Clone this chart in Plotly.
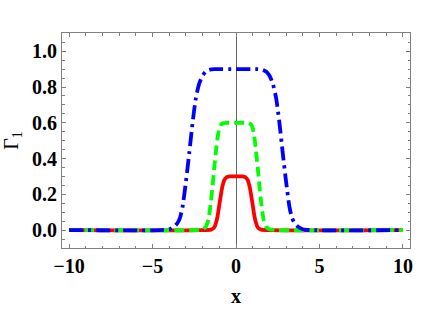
import plotly.graph_objects as go

# values (curves are symmetric about x = 0)
red_x_half = [-10, -2.0, -1.5, -1.3, -1.2, -1.1, -1.0, -0.9, -0.8, -0.7, -0.55, -0.4]
red_y_half = [0, 0, 0.003, 0.015, 0.04, 0.08, 0.14, 0.2, 0.25, 0.28, 0.296, 0.3]

green_x_half = [-10, -2.5, -2.0, -1.8, -1.65, -1.5, -1.4, -1.3, -1.2, -1.1, -1.0, -0.9, -0.75, -0.55]
green_y_half = [0, 0, 0.005, 0.02, 0.06, 0.16, 0.25, 0.35, 0.44, 0.52, 0.57, 0.59, 0.598, 0.6]

blue_x_half = [-10, -4.5, -4.0, -3.7, -3.5, -3.35, -3.2, -3.0, -2.8, -2.6, -2.4, -2.2, -2.0, -1.8, -1.6, -1.3]
blue_y_half = [0, 0, 0.005, 0.02, 0.04, 0.07, 0.13, 0.27, 0.43, 0.6, 0.74, 0.82, 0.865, 0.887, 0.896, 0.9]

x_ticks = [-10, -5, 0, 5, 10]
x_labels = ["\u221210", "\u22125", "0", "5", "10"]
y_ticks = [0.0, 0.2, 0.4, 0.6, 0.8, 1.0]
y_labels = ["0.0", "0.2", "0.4", "0.6", "0.8", "1.0"]


def mirror(xs, ys):
    fx = xs + [0] + [-v for v in reversed(xs)]
    fy = ys + [ys[-1]] + list(reversed(ys))
    return fx, fy


font = "Liberation Serif"
fig = go.Figure()

for (xs, ys), color, dash in [
    ((red_x_half, red_y_half), "#FF0000", "solid"),
    ((green_x_half, green_y_half), "#00FF00", "10px,5px"),
    ((blue_x_half, blue_y_half), "#0000FF", "14px,5px,3px,5px"),
]:
    fx, fy = mirror(xs, ys)
    fig.add_trace(go.Scatter(x=fx, y=fy, mode="lines",
                             line=dict(color=color, width=3.8, dash=dash, shape="spline", smoothing=0.6),
                             showlegend=False, hoverinfo="skip"))

axis_common = dict(
    showline=True, linecolor="#808080", linewidth=1, mirror="ticks",
    ticks="inside", ticklen=4, tickcolor="#808080", tickwidth=1,
    showgrid=False, automargin=False,
    tickfont=dict(family=font, size=20, color="black"),
)

fig.update_layout(
    width=443, height=309,
    margin=dict(l=62, r=33, t=33, b=61),
    paper_bgcolor="white", plot_bgcolor="white",
    xaxis=dict(range=[-10.42, 10.42], tickvals=x_ticks, ticktext=["<b>%s</b>" % t for t in x_labels],
               zeroline=True, zerolinecolor="#666666", zerolinewidth=1,
               minor=dict(dtick=1, ticks="inside", ticklen=2.5, tickcolor="#808080"),
               title=dict(text="<b>x</b>", font=dict(family=font, size=20, color="black"), standoff=12),
               **axis_common),
    yaxis=dict(range=[-0.1, 1.102], tickvals=y_ticks, ticktext=["<b>%s</b>" % t for t in y_labels],
               zeroline=False,
               minor=dict(dtick=0.05, ticks="inside", ticklen=2.5, tickcolor="#808080"),
               title=dict(text="\u0393<sub>1</sub>", font=dict(family=font, size=20, color="black"), standoff=8),
               **axis_common),
)

fig.write_html("out.html", config={"displayModeBar": False},
               post_script="document.body.style.margin='0';document.body.style.overflow='hidden';")
